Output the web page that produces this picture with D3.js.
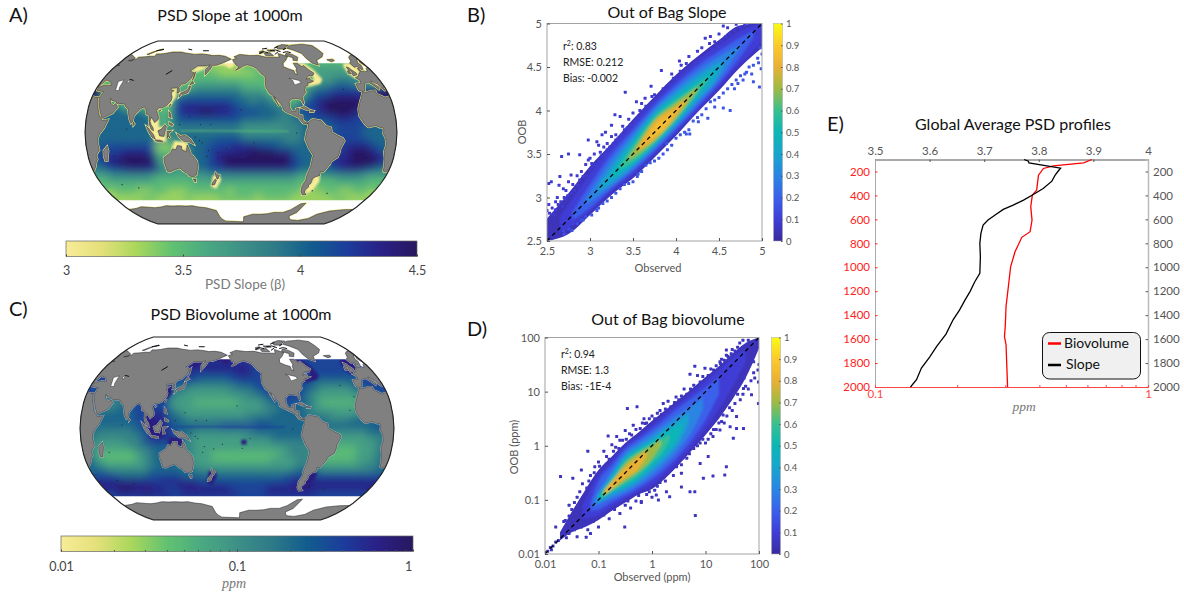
<!DOCTYPE html>
<html><head><meta charset="utf-8">
<script src="https://cdn.jsdelivr.net/npm/d3@7"></script>
<style>
html,body{margin:0;padding:0;background:#fff}
svg{display:block}
text{font-family:Lato,"Open Sans",sans-serif}
</style></head><body>
<svg id="c" width="1184" height="594"></svg>
<script>
// ---------- map fields: 10 deg lon (starting 25E) x 5 deg lat, digits 0-9 are colour-scale levels ----------
const gridLats = d3.range(72.5, -65, -5);
const slopeRows = [
"3333333333 3333333333 3333333333 333333",
"3333333333 3333333333 3333333333 333333",
"3333333333 3333222223 3333333333 333333",
"3333333333 3332222233 3333333344 444333",
"3333333333 3333322222 3333333344 444433",
"3333333333 3333333333 3333333344 555533",
"3333333333 3344444433 3333333455 665544",
"9333333333 3455555544 4333335667 777788",
"9333333333 5666666655 5433336778 888899",
"7733333333 7777777665 6543367899 998888",
"7766333333 7888888766 6654577899 999877",
"7766666333 7889988777 6665677899 988777",
"6666666644 6777777766 6655667778 877766",
"6666666633 6666666655 5555566677 777666",
"6666666644 5555555544 4445566667 776666",
"6666666655 5666666655 5555566777 776666",
"6666666644 5666677766 6665566677 777666",
"6677777722 3466777888 7766666677 888766",
"6777888733 3466788889 9988666677 899876",
"6788999944 4566789999 9999766678 899987",
"6789999844 4566789999 9999766678 899987",
"5677888855 4466778888 8888766667 888765",
"4455555444 4444555555 5555544455 555444",
"3444444333 3344444444 4444433333 444433",
"3333333333 3333333333 3333333333 333333",
"2333223322 2333332333 3333332223 322332",
"2222332222 3222233333 2333322222 233222",
"2222222222 2222222222 2222222222 222222"];
const biovolRows = [
"7777777777 7777777777 7777777777 777777",
"7777777777 7777777777 7777777777 777777",
"7777777777 7777777777 7777777777 777777",
"7777777777 7788888888 7777777777 777777",
"7777777777 7888888888 7777777777 777777",
"8777777777 7877777788 7777777777 777777",
"7777777777 7776666777 7777777666 666777",
"7777777777 6655555566 7777777655 556777",
"7777777777 5544444555 6777776544 445677",
"6655777777 5444444445 5677775444 444566",
"6655577777 4443333344 4567766433 334566",
"6555667777 5444444444 4556665444 444566",
"6666667788 6544444445 5566665554 445566",
"6666667788 6655555555 6666666655 566666",
"6666666788 7666667777 7766666666 666677",
"6655556788 7665555555 6666666655 555666",
"6555555688 8654444445 5566665554 444555",
"6544455777 7554444444 4455555444 444456",
"6444445566 6554444444 4444555443 334456",
"6433334566 6554433333 3334555433 334456",
"6433334566 6544433333 3344455433 334456",
"6544444566 6554444444 4444455544 444556",
"6655555666 6665555555 5555566655 555556",
"7776666777 7666666666 6666777777 777777",
"8888888788 8887777777 7777788888 888888",
"8899888877 8888888777 7788888888 888888",
"7888898887 8888888877 7788888887 777777",
"7777777777 7777777777 7777777777 777777"];

const land = [
[[-5.9,35.8],[-10,31],[-13,27.5],[-17,21],[-17.5,14.7],[-15,11],[-12,7.5],[-8,4.5],[-4,5.2],[1,6],[5,4.3],[8.5,4.5],[9.8,2],[9,-1],[12,-5],[13.5,-11],[12,-17],[14.5,-22.5],[16.5,-29],[18.5,-34.2],[20,-34.8],[26,-33.8],[31,-29.5],[33,-26],[35.5,-23.5],[35,-20],[40,-15.5],[39,-9],[39.5,-5],[42,-1],[47,4],[51,11.5],[44,10.5],[43,12],[39,16],[37,21],[35,25],[32.5,30],[34,31.3],[30,31.2],[25,32],[20,31],[19,30.3],[15,32.3],[10.5,34],[11,37],[5,36.8],[-2,35.2]],
[[-9,37],[-9.5,38.7],[-9,43],[-2,43.5],[-1,46],[-4.7,48.3],[1,50],[4,52],[8,54],[8.3,57],[10.7,57.5],[10,54.5],[14,54],[19,54.5],[21,57],[24,58],[24,59.5],[30,60],[23,60],[21.5,63],[25,65.5],[22,65.8],[17.5,62],[18.5,60],[16,56.5],[13,55.5],[11,59],[6,58],[5,62],[10,64],[14,68],[20,70],[26,71],[31,70],[41,67],[40,64.5],[35,64.5],[44,66],[44,68],[54,68.5],[60,69],[68,69],[67,71.5],[73,71.5],[80,72],[90,73.5],[105,73.5],[113,72.5],[130,71],[140,71.5],[160,69.7],[170,70],[180,69],[190,66],[185,64.5],[179,62.5],[170,60],[164,59.8],[162,56],[157,51],[155.5,56],[160,60.5],[155,59.3],[143,59.3],[135,54.7],[141,53],[140,48],[135,43.5],[130,42.5],[127.5,39.7],[129.3,37],[129,35.2],[126.5,34.5],[126.7,37.5],[125,39.5],[121.5,39],[118,39],[119,37.3],[122.5,37],[119.5,35],[122,31],[121.5,28],[117,23.5],[113,22],[108.5,21.5],[106,19.5],[109,14],[109,11.5],[105,8.7],[103,11],[100.5,13.5],[99.5,10],[101,7],[103.5,4],[104,1.4],[101,3],[98.5,8],[98,15],[94.5,16],[94,19],[91,22.5],[87,21],[82,16.5],[80,14],[79.8,10],[77.5,8],[75,12],[73,18],[72,21],[69,22.5],[67,25],[62,25.2],[57,25.7],[56.5,27],[51,28],[48.5,30],[50,26.5],[51.5,25],[54,24],[56.3,25.5],[59.7,22.5],[55,17],[45,13],[43,13],[40,18],[37,24],[35,28],[34.5,31.5],[36,36],[30,36.5],[27,37],[26.5,40],[29,41],[35,42],[41,41.5],[37,45],[33,45.5],[31,46.5],[28,43],[26.5,40.8],[23,40],[23,36.5],[20,39.5],[18.5,42.5],[13,45.5],[12.5,44],[18,40],[16,38],[12,42],[8.5,44.3],[3,43.2],[0,39.5],[-2,36.8],[-5.5,36]],
[[-168,65.5],[-162,67],[-166,68.5],[-157,71],[-141,69.7],[-128,70],[-115,68],[-108,68],[-95,68],[-94,72],[-85,69.5],[-81,69],[-87,65],[-93,62],[-94.5,58.7],[-88,56.5],[-82,55],[-82,52],[-79,51.5],[-79,55],[-77,57],[-78,62],[-72,62],[-68,58.5],[-65,60],[-61,56],[-56,52.5],[-60,50],[-66,50],[-70,47],[-65,48.5],[-64,46],[-61,45.5],[-66,44],[-70,43.5],[-70,41.7],[-74,40.5],[-76,37],[-75.5,35.3],[-81,31.5],[-80,26],[-81,25],[-83,29],[-89,30],[-94,29.5],[-97.5,27],[-97.5,22],[-95,18.5],[-91,18.5],[-90.5,21],[-87,21.5],[-88,16],[-83.5,15],[-83.5,11],[-80,9],[-77.5,8.5],[-78,7.5],[-80,7.5],[-83,8],[-86,10.5],[-88,13],[-92,14.5],[-96,16],[-102,18],[-105.5,20],[-106,23],[-109,26],[-112.5,30],[-114.7,31.5],[-112,27],[-110,23],[-112,25.5],[-115,29],[-117,32.5],[-120.5,34.5],[-122.5,37.8],[-124.3,40.3],[-124,46],[-123,49],[-128,52],[-133,56.5],[-137,58.5],[-146,60.5],[-152,59],[-158,56.5],[-163,55],[-158,58.5],[-162,60],[-165,62.5]],
[[-77.5,8.5],[-72,12],[-62,10.5],[-57,6],[-51,4.5],[-50,0],[-44,-2.5],[-37,-5],[-35,-7.5],[-39,-14],[-39.5,-18],[-41,-22],[-48,-25.5],[-48.5,-28],[-54,-34.5],[-58,-34.5],[-57,-38],[-62,-39],[-65,-41],[-65,-45],[-67.5,-46.5],[-66,-48],[-69,-51],[-68.5,-53],[-65,-55],[-70,-55.5],[-74,-52.5],[-75.5,-47],[-73,-42],[-73.5,-37],[-71.5,-30],[-70.3,-20],[-76,-14],[-81,-6],[-80,-2],[-79,2],[-77.5,4],[-77.5,7]],
[[114,-22],[113.5,-26],[115,-34],[118,-35],[124,-33],[131,-31.5],[136,-35],[138,-35.5],[141,-38.5],[146.5,-39],[150,-37.5],[153,-31],[153,-25.5],[149,-21],[146,-19],[145,-15],[142.5,-11],[141,-17],[136,-15],[136,-12],[131,-11.5],[129,-15],[125,-14.5],[122,-18],[117,-20.5]],
[[-73,78],[-60,82],[-35,83.5],[-20,81.5],[-20,72],[-27,68.5],[-40,65],[-43,60],[-50,62],[-54,67],[-55,72],[-65,76]],
[[-80,72.5],[-72,71],[-66,68],[-70,64.5],[-76,65],[-74,67.5],[-84,70]],
[[-117,72],[-107,73],[-103,69.5],[-115,69.5]],
[[-90,80],[-75,83],[-64,82],[-78,77],[-90,77]],
[[-124,74],[-117,75],[-118,73],[-124,71.5]],
[[-110,76],[-100,76],[-97,74.5],[-108,74.5]],
[[52,71],[58,74],[68,77],[62,75],[55,71]],
[[-24,65.5],[-14,66],[-14,64.5],[-20,63.5]],
[[-5.5,50],[1,51.3],[1.5,53],[-2,56],[-2,57.5],[-5,58.5],[-6,56],[-3,54],[-5,52]],
[[-10,52],[-6,52],[-6,55],[-9,54.5]],
[[49.5,-12],[50.3,-16],[47,-25],[44,-25],[43.5,-21],[44.5,-16]],
[[130.9,34],[135,33.5],[140,35],[141.5,38],[141.5,41],[140,41],[139,38],[136,36.5],[132,35]],
[[140,42],[145,43.5],[142,45.5],[141,43.5]],
[[130,31.2],[132,32.8],[130.5,33.8]],
[[142,46],[143.5,49],[143,54],[142,53],[142,49]],
[[120.3,22.5],[122,25],[121,25]],
[[109,18.5],[111,19.5],[110,20]],
[[120.5,18.5],[122.3,17],[124,13],[121,14]],
[[122,9],[126.3,7],[125.5,6],[122,7]],
[[109,1.5],[113,3],[117,7],[119,5],[117.5,1],[116,-3.5],[111,-3]],
[[95.5,5.5],[98,4],[104,-2],[106,-6],[102,-4],[98,1]],
[[105.5,-6.5],[111,-6.7],[114.5,-7.7],[114,-8.7],[107,-7.7]],
[[119.5,-5.5],[120,1],[125,1.5],[121,-1],[123,-5],[121,-3]],
[[131,-1],[135,-3],[141,-2.5],[147,-6],[150.5,-10.5],[144,-8],[139,-8],[133,-4]],
[[172.7,-34.5],[175.5,-37],[178.5,-37.7],[176,-41],[174.8,-41],[174,-39]],
[[172.5,-41],[174,-42],[171,-46],[167,-46.5],[168,-44.5]],
[[80,9.5],[82,7.5],[80.5,6]],
[[-84.5,22],[-80,23],[-74.5,20.3],[-78,20]],
[[-74,19.8],[-69,19],[-70,18],[-74,18]],
[[145,-41],[148.3,-41],[147.5,-43.5],[146,-43.5]],
[[165,-71],[167,-78],[175,-84],[-150,-85],[-150,-78],[-135,-75],[-110,-74.5],[-100,-73],[-85,-73],[-75,-70],[-65,-64],[-58,-63.5],[-60,-68],[-62,-73],[-70,-77],[-60,-82],[-45,-83],[-30,-80],[-25,-75],[-10,-71.5],[10,-70],[30,-69.5],[50,-67],[70,-68],[90,-66],[110,-66],[130,-66],[150,-68]]
];
const islandPts = [[205,20],[178,-18],[160,-9],[167,-16],[165,-21],[-172,-14],[-149,-17.5],[-91,-0.5],[73,3],[55.5,-21],[70,-49],[-59,-51.7],[-28,38],[-16,28],[-24,16],[145,14],[158,7],[170,7],[-140,-9],[-37,-54],[51,-46],[134,7],[152,-4],[157,-7]];
const coastFragments = [
[[60,75],[70,76.5]],[[112,77],[120,76]],[[140,75],[150,75]],[[104,51.5],[110,55]],[[60,47],[66,46]],
[[-125,72],[-118,74],[-110,73]],[[-105,75],[-95,76],[-88,74]],[[-85,73],[-78,74],[-72,73]],[[-100,71],[-92,74]],[[-118,77],[-108,78]],[[-96,78],[-86,80]],[[-82,76],[-74,78]]];
const inlandWater = [
[[47,45],[53,46.5],[53,40],[54,37],[50,37],[49,40.5]],
[[59,46],[61,46.5],[61,44],[58.5,44]],
[[-92,48],[-80,46],[-78,44],[-87,42],[-88,46]]];
const whiteSeas = [
[[-95,65],[-78,65],[-75,60],[-77,55],[-79,51],[-83,51],[-93,57],[-95,60]],
[[16,55],[24,54],[31,60],[26,66],[20,66],[16,60]]];
const shelves = [
[[117,22],[122,25],[127,31],[126,36],[124,39],[119,39],[120,33],[119,26]],
[[100,13],[105,13],[110,11],[110,5],[118,5],[118,-2],[119,-8],[105,-8],[104,-3],[98,4],[99,9]],
[[127,-7.5],[140,-8],[143,-10],[142,-15],[136,-16],[128,-15],[124,-13],[127,-10]],
[[137,54],[143,59],[152,59.5],[156,57],[150,55],[143,53]],
[[-80,62],[-62,62],[-54,55],[-49,47],[-54,43],[-66,41],[-72,40],[-74,38],[-68,44],[-60,47],[-60,52],[-66,58]],
[[-5,62],[8,62],[10,56],[4,51],[-6,48],[-10,52],[-9,58]],
[[-68,-38],[-57,-38],[-55,-43],[-58,-50],[-63,-54],[-69,-53],[-68,-47],[-64,-42]],
[[170,-38],[178,-37],[180,-42],[172,-50],[166,-48]],
[[165,60],[180,66],[190,66],[197,60],[190,57],[180,60]]];
const darkSpot = [[[-150,-10],[-144,-10],[-144,-14],[-150,-14]]];
const equatorBand = [[[135,2.5],[170,2.5],[-160,2.5],[-130,2.2],[-100,2],[-100,0],[-130,0],[-160,.2],[170,.5],[135,.5]]];

// ---------- colour tables ----------
const oceanStops = ["#f8ec97","#e4e07a","#a9d75b","#62c270","#4aa982","#3d9086","#2e7a88","#115c8e","#1c3d9c","#2a2086","#27185e"];
const parulaStops = ["#3a2a9e","#3f3dd6","#3b60ea","#2a85e2","#18a5cc","#0cb6b6","#38bf90","#9dba45","#e8b035","#fbc92e","#f8fa15"];

const slopeLevels = [0,0.1,0.2,0.3,0.4,0.5,0.6,0.7,0.8,0.85];
const slopeBands = [
[[2.5,2.5,2.76],[2.75,2.58,3.05],[3,2.8,3.36],[3.25,3.03,3.62],[3.5,3.22,3.9],[3.75,3.46,4.16],[4,3.71,4.41],[4.25,3.98,4.62],[4.5,4.23,4.81],[4.75,4.5,4.98],[5,4.72,5]],
[[2.65,2.6,2.78],[2.75,2.65,2.92],[3,2.84,3.28],[3.25,3.07,3.58],[3.5,3.26,3.85],[3.75,3.5,4.12],[4,3.75,4.36],[4.25,4,4.58],[4.5,4.27,4.75],[4.75,4.54,4.92],[5,4.78,5]],
[[2.8,2.74,2.84],[3,2.88,3.15],[3.25,3.1,3.5],[3.5,3.3,3.78],[3.75,3.53,4.06],[4,3.78,4.3],[4.25,4.04,4.51],[4.5,4.31,4.68],[4.75,4.62,4.84],[4.9,4.84,4.92]],
[[2.95,2.92,2.98],[3.25,3.13,3.43],[3.5,3.33,3.73],[3.75,3.56,4.02],[4,3.81,4.25],[4.25,4.08,4.45],[4.5,4.36,4.62],[4.75,4.73,4.76]],
[[3.1,3.07,3.13],[3.25,3.17,3.35],[3.5,3.36,3.68],[3.75,3.59,3.98],[4,3.84,4.2],[4.25,4.12,4.39],[4.5,4.42,4.55],[4.55,4.53,4.57]],
[[3.25,3.22,3.28],[3.5,3.39,3.63],[3.75,3.61,3.95],[4,3.87,4.16],[4.25,4.16,4.33],[4.45,4.43,4.47]],
[[3.35,3.33,3.37],[3.5,3.41,3.59],[3.75,3.63,3.92],[4,3.89,4.12],[4.25,4.2,4.3],[4.35,4.33,4.37]],
[[3.45,3.43,3.47],[3.5,3.46,3.54],[3.75,3.65,3.89],[4,3.91,4.09],[4.25,4.23,4.27]],
[[3.55,3.53,3.57],[3.75,3.67,3.87],[4,3.93,4.05],[4.12,4.1,4.14]],
[[3.68,3.66,3.7],[3.75,3.7,3.82],[3.9,3.83,3.93],[3.98,3.96,4]]];
const biovolLevels = [0,0.1,0.2,0.3,0.4,0.5,0.6,0.7,0.8];
const biovolBands = [
[[-1.72,-1.75,-1.6],[-1.5,-1.6,-1.22],[-1.25,-1.5,-.82],[-1,-1.37,-.45],[-.75,-1.2,-.2],[-.5,-1.05,.05],[-.25,-.9,.25],[0,-.8,.46],[.25,-.6,.66],[.5,-.35,.86],[.75,-.08,1.06],[1,.2,1.27],[1.25,.5,1.47],[1.5,.85,1.7],[1.75,1.25,1.9],[2,1.8,2]],
[[-1.3,-1.35,-1.1],[-1,-1.28,-.55],[-.75,-1.12,-.28],[-.5,-.98,0],[-.25,-.84,.18],[0,-.72,.38],[.25,-.52,.58],[.5,-.27,.78],[.75,0,.98],[1,.32,1.2],[1.25,.68,1.4],[1.5,1.08,1.62],[1.75,1.55,1.8]],
[[-1.15,-1.2,-1.05],[-1,-1.18,-.66],[-.75,-1.04,-.36],[-.5,-.92,-.06],[-.25,-.78,.12],[0,-.62,.3],[.25,-.42,.5],[.5,-.18,.7],[.75,.12,.88],[1,.48,1.07],[1.25,.95,1.27]],
[[-1.08,-1.12,-.98],[-.75,-.97,-.46],[-.5,-.86,-.13],[-.25,-.72,.05],[0,-.54,.22],[.25,-.32,.4],[.5,-.06,.58],[.75,.28,.74],[.95,.68,.88]],
[[-1.02,-1.05,-.92],[-.75,-.91,-.54],[-.5,-.8,-.19],[-.25,-.65,-.02],[0,-.45,.14],[.25,-.22,.32],[.5,.06,.48],[.68,.42,.6]],
[[-.97,-1,-.88],[-.75,-.86,-.6],[-.5,-.75,-.24],[-.25,-.6,-.07],[0,-.38,.08],[.25,-.13,.24],[.5,.2,.38],[.55,.33,.4]],
[[-.94,-.96,-.86],[-.75,-.83,-.63],[-.5,-.7,-.29],[-.25,-.54,-.1],[0,-.31,.04],[.25,-.03,.16],[.32,.11,.2]],
[[-.91,-.93,-.84],[-.7,-.78,-.6],[-.5,-.65,-.33],[-.25,-.48,-.14],[0,-.24,0],[.17,.02,.11]],
[[-.87,-.89,-.8],[-.5,-.6,-.39],[-.25,-.42,-.19],[-.1,-.2,-.1]]];
const slopeDots = [[2.52,3.16],[2.55,3.18],[2.64,3.14],[2.65,3.24],[2.69,3.1],[2.75,3.18],[2.78,3.26],[2.67,3.47],[2.75,3.5],[2.88,3.49],[2.98,3.43],[3.02,3.39],[2.98,3.66],[3.08,3.64],[3.1,3.6],[3.14,3.72],[3.16,3.58],[3.25,3.83],[3.29,3.95],[3.35,3.93],[3.41,4.21],[3.54,4.1],[3.6,4.08],[3.64,4.14],[3.71,4.28],[3.83,4.46],[3.72,4.16],[4.04,4.57],[4.06,4.52],[4.34,4.83],[4.55,4.97],[4.7,4.99],[4.45,4.79],[4.39,4.77],[4.12,4.54],[3.97,4.37],[4.63,4],[4.55,4.03],[4.45,4.04],[4.37,3.91],[4.26,3.87],[4.16,3.73],[4.12,3.73],[3.89,3.62],[3.56,3.27],[4.99,4.48],[4.97,4.27],[4.9,4.33],[4.78,4.35],[4.72,4.31],[4.68,4.25],[4.82,4.44],[2.79,2.62],[2.75,2.64],[2.69,2.62],[2.89,2.74],[2.6,2.95],[2.62,3],[2.7,3],[2.72,3.08],[2.8,3.15],[2.85,3.25],[2.9,3.3],[2.95,3.38],[3,3.45],[3.05,3.5],[3.12,3.52],[3.2,3.62],[3.25,3.7],[3.3,3.72],[3.38,3.82],[3.45,3.9],[3.5,3.97],[3.58,4],[3.65,4.05],[3.75,4.18],[3.85,4.25],[3.95,4.42],[4.05,4.45],[4.15,4.62],[4.25,4.68],[4.3,4.72],[4.4,4.85],[4.5,4.88],[4.6,4.95],[2.5,2.85],[2.52,2.92],[3.18,3.75],[2.8,2.7],[2.95,2.78],[3.1,2.88],[3.25,3],[3.4,3.15],[3.5,3.18],[3.65,3.37],[3.8,3.45],[3.9,3.55],[4,3.68],[4.1,3.75],[4.2,3.88],[4.3,3.95],[4.4,4.1],[4.5,4.15],[4.6,4.25],[4.75,4.4],[4.85,4.5],[4.95,4.6],[5,4.65],
[2.53,2.82],[2.56,2.88],[2.58,2.8],[2.6,2.86],[2.63,2.92],[2.66,2.95],[2.68,2.9],[2.72,2.98],[2.74,3.02],[2.78,3.05],[2.82,3.08],[2.86,3.14],[2.88,3.2],[2.92,3.24],[2.96,3.25],[3,3.32],[3.03,3.36],[3.06,3.38],[3.1,3.42],[3.13,3.48],[3.17,3.5],[3.2,3.55],[3.23,3.58],[3.27,3.62],[3.3,3.66],[3.33,3.68],[3.37,3.72],[3.4,3.78],[3.43,3.8],[3.47,3.84],[3.52,3.88],[3.55,3.92],[3.6,3.96],[3.63,3.99],[3.68,4.02],[3.72,4.08],[3.78,4.12],[3.82,4.15],[3.88,4.2],[3.92,4.3],[3.98,4.3],[4.02,4.35],[4.08,4.4],[4.12,4.42],[4.18,4.48],[4.22,4.55],[4.28,4.56],[4.33,4.6],[4.38,4.65],[4.42,4.7],[4.48,4.75],[4.53,4.8],[4.58,4.85],[4.63,4.88],[4.68,4.92],[4.75,4.95],[4.8,4.98],[4.85,5],
[2.7,2.58],[2.85,2.7],[2.92,2.74],[3.02,2.8],[3.08,2.85],[3.15,2.93],[3.2,2.96],[3.3,3.05],[3.35,3.1],[3.45,3.16],[3.55,3.24],[3.6,3.3],[3.7,3.4],[3.75,3.42],[3.85,3.5],[3.95,3.6],[4.05,3.72],[4.15,3.78],[4.25,3.92],[4.35,4.02],[4.45,4.12],[4.55,4.2],[4.65,4.3],[4.7,4.35],[4.8,4.42],[4.9,4.52],[4.98,4.72],[4.96,4.55],[4.88,4.42]];
const biovolDots = [[-1.71,-.57],[-1.48,-.6],[-1.2,-.1],[-1.32,-.45],[-1.07,-.39],[-.82,.18],[-.66,.17],[-.46,.69],[-.28,.72],[-.13,.41],[.71,1.32],[.8,1.47],[.99,1.43],[1.39,1.77],[1.64,1.9],[1.83,1.89],[1.39,1.67],[1.27,1.55],[.4,.66],[.21,.78],[.81,-1.29],[-.51,-1.5],[-1.23,-1.69],[-1.15,-1.62],[.55,-.76],[.71,-.85],[.8,-.85],[1.36,-.54],[1.39,-.39],[1.14,-.56],[.96,-.6],[.33,-.94],[.27,-.85],[.12,-1],[-.2,-1.03],[.08,-.91],[1.05,-.2],[.9,-.33],[1.71,.32],[1.52,.14],[1.58,.32],[1.99,.78],[1.99,1.18],[1.86,.94],[1.71,1.06],[1.58,.54],[1.46,.35],[1.33,.57],[1.27,.29],[1.14,.17],[.65,-.23],[.46,-.39],[.55,-.51],[-1.8,-1.5],[-1.65,-1.4],[-1.55,-1.1],[-1.4,-.95],[-1.3,-.7],[-1.15,-.55],[-1,-.3],[-.9,-.1],[-.75,.02],[-.6,.1],[-.5,.28],[-.35,.38],[-.15,.5],[0,.55],[.15,.65],[.3,.82],[.45,.9],[.6,1.05],[.85,1.3],[1.1,1.42],[1.3,1.6],[1.5,1.78],[1.7,1.95],[-1.6,-1.7],[-1.4,-1.68],[-1.2,-1.55],[-1,-1.5],[-.8,-1.35],[-.6,-1.25],[-.4,-1.15],[-.2,-1.05],[0,-.95],[.1,-.75],[.25,-.65],[.4,-.55],[.55,-.35],[.7,-.15],[.85,0],[1,.05],[1.15,.3],[1.3,.45],[1.45,.7],[1.6,.95],[1.75,1.1],[1.9,1.35],[2,1.5],[1.95,1.9],[-1.95,-1.95],[-1.9,-1.88],[-1.85,-1.85],[-1.8,-1.78],[-1.75,-1.75],[-1.88,-1.92],
[-1.62,-1.38],[-1.55,-1.3],[-1.5,-1.18],[-1.45,-1.05],[-1.38,-1.1],[-1.35,-.85],[-1.28,-.95],[-1.22,-.78],[-1.18,-.65],[-1.12,-.7],[-1.08,-.5],[-1.02,-.55],[-.98,-.38],[-.92,-.42],[-.85,-.2],[-.8,-.25],[-.72,-.1],[-.68,-.03],[-.62,-.05],[-.55,.1],[-.48,.12],[-.42,.22],[-.38,.2],[-.3,.3],[-.22,.32],[-.18,.42],[-.1,.42],[-.05,.5],[.05,.5],[.1,.6],[.18,.58],[.25,.68],[.35,.72],[.42,.8],[.5,.85],[.55,.92],[.65,.95],[.72,1.05],[.78,1.12],[.9,1.18],[.95,1.28],[1.05,1.3],[1.15,1.4],[1.2,1.48],[1.28,1.52],[1.35,1.58],[1.42,1.65],[1.48,1.7],[1.55,1.75],[1.6,1.82],[1.75,1.85],[1.8,1.95],
[-1.55,-1.62],[-1.45,-1.55],[-1.32,-1.5],[-1.25,-1.45],[-1.1,-1.4],[-1.05,-1.3],[-.9,-1.28],[-.85,-1.2],[-.7,-1.18],[-.65,-1.1],[-.5,-1.1],[-.45,-1.02],[-.3,-1.02],[-.25,-.92],[-.1,-.9],[-.05,-.85],[.05,-.82],[.15,-.68],[.22,-.58],[.3,-.5],[.38,-.42],[.48,-.32],[.58,-.22],[.68,-.1],[.78,-.05],[.9,.05],[.95,.12],[1.05,.12],[1.1,.22],[1.2,.3],[1.25,.42],[1.35,.42],[1.4,.55],[1.5,.65],[1.55,.78],[1.65,.85],[1.7,.95],[1.8,1.05],[1.85,1.2],[1.92,1.25],[1.98,1.4],[1.9,1.55],[1.72,1.25],[1.6,1.15]];

// ---------- profile series (panel E) ----------
const slopeProfile = [[3.773,100],[3.781,114],[3.782,128],[3.84,172],[3.836,194],[3.83,230],[3.824,281],[3.808,342],[3.79,392],[3.772,439],[3.753,481],[3.735,517],[3.72,564],[3.707,606],[3.698,647],[3.694,717],[3.692,800],[3.693,911],[3.692,1050],[3.683,1119],[3.674,1203],[3.665,1272],[3.655,1356],[3.643,1439],[3.63,1558],[3.613,1661],[3.6,1750],[3.585,1842],[3.576,1939],[3.565,2000]];
const biovolProfile = [[.623,100],[.581,128],[.45,153],[.414,175],[.397,231],[.391,356],[.377,397],[.372,494],[.376,606],[.37,703],[.345,750],[.326,869],[.314,994],[.308,1161],[.302,1328],[.3,1494],[.298,1578],[.302,1647],[.304,1828],[.306,2000]];
const depthTicks = d3.range(200,2001,200);

// ---------- helpers ----------
const svg = d3.select("#c");
const defs = svg.append("defs");
const mkBlur=(id,s)=>defs.append("filter").attr("id",id).attr("x","-5%").attr("y","-5%").attr("width","110%").attr("height","110%").append("feGaussianBlur").attr("stdDeviation",s);
mkBlur("blurOcean",4); mkBlur("blurSoft",1.1); mkBlur("blurCloud",1.3);

const oceanColor = d3.scaleLinear().domain(d3.range(11).map(i=>i/10)).range(oceanStops).interpolate(d3.interpolateRgb);
const parula = d3.scaleLinear().domain(d3.range(11).map(i=>i/10)).range(parulaStops).interpolate(d3.interpolateRgb);

const PL=[1,.9986,.9954,.99,.9822,.973,.96,.9427,.9216,.8962,.8679,.835,.7986,.7597,.7186,.6732,.6213,.5722,.5322];
const PD=[0,.062,.124,.186,.248,.31,.372,.434,.4958,.5571,.6176,.6769,.7346,.7903,.8435,.8936,.9394,.9761,1];
function robinsonRaw(st){
  return (lam,phi)=>{
    const a=Math.min(Math.abs(phi)*180/Math.PI/5,17.9999), i=Math.floor(a), t=a-i;
    const pl=PL[i]+(PL[i+1]-PL[i])*t, pd=PD[i]+(PD[i+1]-PD[i])*t;
    return [.8487*lam*pl, 1.3523*pd*Math.sign(phi)*st];
  };
}
function poly(ring){
  const r=ring.slice(); r.push(ring[0]);
  const g={type:"Polygon",coordinates:[r]};
  if(d3.geoArea(g)>2*Math.PI) g.coordinates[0]=r.reverse();
  return g;
}
function label(x,y,t,o={}){
  return svg.append("text").attr("x",x).attr("y",y).text(t)
    .attr("font-size",o.size||10.5).attr("fill",o.fill||"#444")
    .attr("text-anchor",o.anchor||"middle")
    .attr("font-style",o.italic?"italic":null)
    .style("font-family",o.family||null);
}
function styleAxis(g,color,size){
  g.selectAll("path.domain").attr("stroke",color);
  g.selectAll(".tick line").attr("stroke",color);
  g.selectAll(".tick text").attr("fill",color).attr("font-size",size).style("font-family","Lato");
}

function drawMap(cfg){
  const [x0,y0,x1,y1]=cfg.box;
  const st=((y1-y0)/(x1-x0))*(2*.8487*Math.PI)/(2*1.3523);
  const proj=d3.geoProjection(robinsonRaw(st)).rotate([155,0]).precision(.3)
    .fitExtent([[x0,y0],[x1,y1]],{type:"Sphere"});
  const path=d3.geoPath(proj);
  const g=svg.append("g");
  const cid="clip"+cfg.id;
  defs.append("clipPath").attr("id",cid).append("path").attr("d",path({type:"Sphere"}));
  const cells=[];
  gridLats.forEach((lat,r)=>{
    const row=cfg.rows[r].replace(/ /g,"");
    d3.range(36).forEach(c=>{
      const w=c===0?25.03:25+c*10, e=c===35?384.97:35+c*10;
      cells.push({v:+row[c],geom:poly([[w,lat+2.5],[e,lat+2.5],[e,lat-2.5],[w,lat-2.5]])});
    });
  });
  const clipped=g.append("g").attr("clip-path",`url(#${cid})`);
  clipped.append("path").attr("d",path({type:"Sphere"})).attr("fill","#fff");
  const fill=d=>oceanColor(d.v/9);
  clipped.append("g").selectAll("path").data(cells).join("path")
    .attr("d",d=>path(d.geom)).attr("fill",fill).attr("stroke",fill).attr("stroke-width",.6);
  clipped.append("g").attr("filter","url(#blurOcean)").selectAll("path").data(cells).join("path")
    .attr("d",d=>path(d.geom)).attr("fill",fill).attr("stroke",fill).attr("stroke-width",.6);
  clipped.append("g").attr("filter","url(#blurSoft)").selectAll("path").data(equatorBand).join("path")
    .attr("d",d=>path(poly(d))).attr("fill",cfg.bandColor).attr("opacity",.55);
  clipped.append("g").attr("filter","url(#blurSoft)").selectAll("path").data(cfg.shelves).join("path")
    .attr("d",d=>path(poly(d))).attr("fill",cfg.shelfColor);
  // areas with no data
  const north=d3.range(0,360,5).map(l=>[l-180,62]);
  const south=d3.range(0,360,5).map(l=>[l-180,-60.5]);
  clipped.append("path").attr("d",path(poly(north))).attr("fill","#fff");
  clipped.append("path").attr("d",path(poly(south))).attr("fill","#fff");
  clipped.append("g").selectAll("path").data(whiteSeas).join("path").attr("d",d=>path(poly(d))).attr("fill","#fff");
  // coast halo, land
  const landG=clipped.append("g");
  const features=land.map(poly);
  landG.selectAll("path.h").data(features).join("path").attr("class","h")
    .attr("d",path).attr("fill","none").attr("stroke",cfg.halo).attr("stroke-width",cfg.haloW);
  landG.selectAll("path.l").data(features).join("path").attr("class","l")
    .attr("d",path).attr("fill","#808080").attr("stroke","#1a1a1a").attr("stroke-width",.45);
  landG.selectAll("path.w").data(inlandWater).join("path").attr("class","w")
    .attr("d",d=>path(poly(d))).attr("fill","#fff").attr("stroke","#111").attr("stroke-width",.4);
  landG.selectAll("path.i").data(islandPts.map(p=>d3.geoCircle().center(p).radius(.55)())).join("path").attr("class","i")
    .attr("d",path).attr("fill","#222");
  landG.selectAll("path.f").data(coastFragments).join("path").attr("class","f")
    .attr("d",d=>path({type:"LineString",coordinates:d})).attr("fill","none").attr("stroke","#111").attr("stroke-width",1);
  g.append("path").attr("d",path({type:"Sphere"})).attr("fill","none").attr("stroke","#222").attr("stroke-width",1.1);
}
function gradient(id,scale,vertical){
  const lg=defs.append("linearGradient").attr("id",id)
    .attr("x1",0).attr("y1",vertical?1:0).attr("x2",vertical?0:1).attr("y2",0);
  d3.range(0,1.0001,.05).forEach(t=>lg.append("stop").attr("offset",t).attr("stop-color",scale(t)));
}
gradient("oceanGrad",oceanColor,false);
gradient("parulaGrad",parula,true);

// ---------- panel A ----------
drawMap({id:"A",box:[85,41,397,224],rows:slopeRows,shelves:shelves,shelfColor:oceanColor(0),halo:oceanColor(0),haloW:1.7,bandColor:oceanColor(.34)});
label(230,20.5,"PSD Slope at 1000m",{size:16,fill:"#111"});
label(9,22,"A)",{size:20,fill:"#111",anchor:"start"});
const cbA=d3.scaleLinear().domain([3,4.5]).range([66,417]);
svg.append("rect").attr("x",66).attr("y",241).attr("width",351).attr("height",15.5).attr("fill","url(#oceanGrad)").attr("stroke","#666").attr("stroke-width",.7);
const aA=svg.append("g").attr("transform","translate(0,256.5)").call(d3.axisBottom(cbA).tickValues([3,3.5,4,4.5]).tickFormat(d3.format("~g")).tickSize(-2).tickPadding(10));
aA.select(".domain").remove(); styleAxis(aA,"#444",12.5);
label(245,289,"PSD Slope (β)",{size:13.5,fill:"#7a7a7a"});

// ---------- panel C ----------
drawMap({id:"C",box:[80,337,394,520],rows:biovolRows,shelves:shelves.concat(darkSpot),shelfColor:oceanColor(.92),halo:"#d9dde8",haloW:1.2,bandColor:oceanColor(.8)});
label(241,320,"PSD Biovolume at 1000m",{size:16,fill:"#111"});
label(9,316,"C)",{size:20,fill:"#111",anchor:"start"});
const cbC=d3.scaleLog().domain([.01,1]).range([61,413]);
svg.append("rect").attr("x",61).attr("y",536).attr("width",352).attr("height",15.5).attr("fill","url(#oceanGrad)").attr("stroke","#666").attr("stroke-width",.7);
const minorC=[.02,.03,.04,.05,.06,.07,.08,.09,.2,.3,.4,.5,.6,.7,.8,.9];
const aC2=svg.append("g").attr("transform","translate(0,551.5)").call(d3.axisBottom(cbC).tickValues(minorC).tickFormat("").tickSize(-1.5));
aC2.select(".domain").remove(); styleAxis(aC2,"#555",1);
const aC=svg.append("g").attr("transform","translate(0,551.5)").call(d3.axisBottom(cbC).tickValues([.01,.1,1]).tickFormat(d3.format("~g")).tickSize(-2).tickPadding(11));
aC.select(".domain").remove(); styleAxis(aC,"#444",12.5);
aC.selectAll(".tick text").filter(d=>d===1).attr("dx",-5);
label(234,588,"ppm",{size:14,fill:"#777",italic:true,family:"Liberation Serif"});

// ---------- scatter panels ----------
const bandArea=(x,y)=>d3.area().x(d=>x(d[0])).y0(d=>y(d[1])).y1(d=>y(d[2])).curve(d3.curveMonotoneX);
function drawScatter(c){
  const {x,y,x0,x1,y0,y1}=c;
  const cid="clip"+c.id;
  defs.append("clipPath").attr("id",cid).append("rect").attr("x",x0).attr("y",y1).attr("width",x1-x0).attr("height",y0-y1);
  const g=svg.append("g").attr("clip-path",`url(#${cid})`);
  const area=bandArea(c.bx,c.by);
  g.append("path").datum(c.bands[0]).attr("d",area).attr("fill",parula(.05));
  g.selectAll("rect.dot").data(c.dots).join("rect").attr("class","dot")
    .attr("x",d=>c.bx(d[0])-1.5).attr("y",d=>c.by(d[1])-1.5).attr("width",3).attr("height",3)
    .attr("rx",.5).attr("fill",d=>parula(d[1]<d[0]?c.dotLow:c.dotHigh));
  const cloud=g.append("g").attr("filter","url(#blurCloud)");
  cloud.selectAll("path").data(c.bands.slice(1)).join("path").attr("d",area).attr("fill",(d,i)=>parula(c.levels[i+1]));
  g.append("path").attr("d",d3.line().x(d=>x(d)).y(d=>y(d))(c.domain)).attr("stroke","#000").attr("stroke-width",1.3).attr("stroke-dasharray","4 3.5").attr("fill","none");
  svg.append("rect").attr("x",x0).attr("y",y1).attr("width",x1-x0).attr("height",y0-y1).attr("fill","none").attr("stroke","#999").attr("stroke-width",.9);
  const ax=svg.append("g").attr("transform",`translate(0,${y0})`).call(d3.axisBottom(x).tickValues(c.ticks).tickFormat(c.fmt).tickSize(-3).tickPadding(6));
  ax.select(".domain").remove(); styleAxis(ax,"#555",11);
  const ay=svg.append("g").attr("transform",`translate(${x0},0)`).call(d3.axisLeft(y).tickValues(c.ticks).tickFormat(c.fmt).tickSize(-3).tickPadding(5));
  ay.select(".domain").remove(); styleAxis(ay,"#555",11);
  svg.append("rect").attr("x",c.cx).attr("y",y1).attr("width",9).attr("height",y0-y1).attr("fill","url(#parulaGrad)").attr("stroke","#aaa").attr("stroke-width",.5);
  const cb=d3.scaleLinear().domain([0,1]).range([y0,y1]);
  const ac=svg.append("g").attr("transform",`translate(${c.cx+9},0)`).call(d3.axisRight(cb).tickValues(d3.range(0,1.01,.1)).tickFormat(d3.format("~g")).tickSize(-1.5).tickPadding(3.5));
  ac.select(".domain").remove(); styleAxis(ac,"#555",9.5);
}
const xB=d3.scaleLinear().domain([2.5,5]).range([547,762]);
const yB=d3.scaleLinear().domain([2.5,5]).range([241,23.5]);
drawScatter({id:"B",x:xB,y:yB,bx:xB,by:yB,x0:547,x1:762,y0:241,y1:23.5,bands:slopeBands,levels:slopeLevels,dots:slopeDots,dotLow:.17,dotHigh:.09,domain:[2.5,5],ticks:[2.5,3,3.5,4,4.5,5],fmt:d3.format("~g"),cx:773.5});
label(667,18,"Out of Bag Slope",{size:16,fill:"#111"});
label(467,22,"B)",{size:20,fill:"#111",anchor:"start"});
label(658,272,"Observed",{size:11,fill:"#555"});
label(0,0,"OOB",{size:11,fill:"#555"}).attr("transform","translate(526,132) rotate(-90)");
function stats(x,y,vals){
  const t=svg.append("text").attr("x",x).attr("y",y).attr("font-size",10.5).attr("fill","#222");
  t.append("tspan").text("r");
  t.append("tspan").text("2").attr("font-size",7).attr("dy",-4);
  t.append("tspan").text(": "+vals[0]).attr("dy",4);
  label(x,y+16,"RMSE: "+vals[1],{size:10.5,fill:"#222",anchor:"start"});
  label(x,y+32,"Bias: "+vals[2],{size:10.5,fill:"#222",anchor:"start"});
}
stats(563,50,["0.83","0.212","-0.002"]);

const xD=d3.scaleLog().domain([.01,100]).range([545,759]);
const yD=d3.scaleLog().domain([.01,100]).range([554,337.5]);
const pow10=v=>Math.pow(10,v);
drawScatter({id:"D",x:xD,y:yD,bx:v=>xD(pow10(v)),by:v=>yD(pow10(v)),x0:545,x1:759,y0:554,y1:337.5,bands:biovolBands,levels:biovolLevels,dots:biovolDots,dotLow:.06,dotHigh:.06,domain:[.01,100],ticks:[.01,.1,1,10,100],fmt:d3.format("~g"),cx:771.5});
label(668,325,"Out of Bag biovolume",{size:16,fill:"#111"});
label(467,336,"D)",{size:20,fill:"#111",anchor:"start"});
label(652,581,"Observed (ppm)",{size:11,fill:"#555"});
label(0,0,"OOB (ppm)",{size:11,fill:"#555"}).attr("transform","translate(518,447) rotate(-90)");
stats(561,358,["0.94","1.3","-1E-4"]);

// ---------- panel E ----------
const xE1=d3.scaleLinear().domain([3.5,4]).range([875,1148]);
const xE2=d3.scaleLog().domain([.1,1]).range([875,1148]);
const yE=d3.scaleLinear().domain([100,2000]).range([159.5,387]);
const topE=svg.append("g").attr("transform","translate(0,159.5)").call(d3.axisTop(xE1).tickValues([3.5,3.6,3.7,3.8,3.9,4]).tickFormat(d3.format("~g")).tickSize(-2.5).tickPadding(5));
styleAxis(topE,"#555",11.5);
const rightE=svg.append("g").attr("transform","translate(1148,0)").call(d3.axisRight(yE).tickValues(depthTicks).tickFormat(d3.format("d")).tickSize(-2.5).tickPadding(5));
styleAxis(rightE,"#555",11.5); rightE.select(".domain").attr("stroke","#bbb").attr("stroke-width",1.5);
const leftE=svg.append("g").attr("transform","translate(875,0)").call(d3.axisLeft(yE).tickValues(depthTicks).tickFormat(d3.format("d")).tickSize(-2.5).tickPadding(5));
styleAxis(leftE,"#f22",11.5); leftE.select(".domain").attr("stroke","#aaa");
const botE=svg.append("g").attr("transform","translate(0,387)").call(d3.axisBottom(xE2).tickValues([.1,.2,.3,.4,.5,.6,.7,.8,.9,1]).tickFormat(d=>(d===.1||d===1)?d3.format("~g")(d):"").tickSize(-2).tickPadding(3));
styleAxis(botE,"#f44",11.5);
svg.append("path").datum(biovolProfile).attr("d",d3.line().x(d=>xE2(d[0])).y(d=>yE(d[1]))).attr("fill","none").attr("stroke","#f00").attr("stroke-width",1.3);
svg.append("path").datum(slopeProfile).attr("d",d3.line().x(d=>xE1(d[0])).y(d=>yE(d[1]))).attr("fill","none").attr("stroke","#000").attr("stroke-width",1.3);
label(1013,130,"Global Average PSD profiles",{size:16,fill:"#111"});
label(827,131,"E)",{size:20,fill:"#111",anchor:"start"});
label(1024,411,"ppm",{size:13.5,fill:"#777",italic:true,family:"Liberation Serif"});
svg.append("rect").attr("x",1042.5).attr("y",332.5).attr("width",98).attr("height",46.5).attr("rx",7).attr("fill","#f0f0f0").attr("stroke","#111").attr("stroke-width",1);
svg.append("line").attr("x1",1048).attr("x2",1061).attr("y1",343.5).attr("y2",343.5).attr("stroke","#f00").attr("stroke-width",2.5);
svg.append("line").attr("x1",1048).attr("x2",1061).attr("y1",365).attr("y2",365).attr("stroke","#000").attr("stroke-width",2.5);
label(1064,348,"Biovolume",{size:14,fill:"#111",anchor:"start"});
label(1066,369,"Slope",{size:14,fill:"#111",anchor:"start"});
</script>
</body></html>
